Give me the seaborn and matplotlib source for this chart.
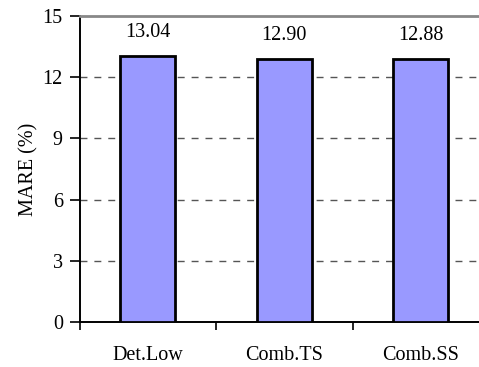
import matplotlib
matplotlib.use("Agg")
import matplotlib.pyplot as plt
import seaborn as sns
import pandas as pd
from matplotlib.ticker import FixedLocator

methods = ["Det.Low", "Comb.TS", "Comb.SS"]
mare = [13.04, 12.90, 12.88]
value_labels = ["13.04", "12.90", "12.88"]
y_ticks = [0, 3, 6, 9, 12, 15]

sns.set_theme(style="white")
plt.rcParams["font.family"] = ["Liberation Serif", "DejaVu Serif"]

df = pd.DataFrame({"method": methods, "mare": mare})

W, H = 479, 367
fig = plt.figure(figsize=(W / 100, H / 100), dpi=100)
ax = fig.add_axes([79.5 / W, (H - 322) / H, 409.5 / W, 306 / H])

sns.barplot(data=df, x="method", y="mare", ax=ax, color="#9999FF",
            saturation=1, width=0.40, edgecolor="black", linewidth=2.0,
            zorder=3)

ax.set_xlim(-0.5, 2.5)
ax.set_ylim(0, 15)
ax.set_yticks(y_ticks)
ax.set_yticklabels([str(t) for t in y_ticks], fontsize=14.5, color="black")
ax.set_xticks(range(len(methods)))
ax.set_xticklabels(methods, fontsize=14.5, color="black")
ax.tick_params(axis="x", which="major", length=0, pad=17)
ax.xaxis.set_minor_locator(FixedLocator([-0.5, 0.5, 1.5, 2.5]))
ax.tick_params(axis="x", which="minor", direction="out", length=6,
               width=1.2, color="black", bottom=True)
ax.tick_params(axis="y", which="major", direction="out", length=7,
               width=1.2, color="black", left=True, pad=5)

ax.set_xlabel("")
ax.set_ylabel("MARE (%)", fontsize=14.5, color="black", labelpad=3)

for y in [3, 6, 9, 12]:
    ax.axhline(y, color="#555555", linewidth=1.0, dashes=(5, 5), zorder=1)

for spine in ["left", "bottom"]:
    ax.spines[spine].set_color("black")
    ax.spines[spine].set_linewidth(1.4)
ax.spines["top"].set_color("#888888")
ax.spines["top"].set_linewidth(2.0)
ax.spines["right"].set_visible(False)

for i, (v, lab) in enumerate(zip(mare, value_labels)):
    ax.annotate(lab, xy=(i, v), xytext=(0, 17), textcoords="offset points",
                ha="center", va="center", fontsize=14.5, color="black")

fig.savefig("out.png", dpi=100)
